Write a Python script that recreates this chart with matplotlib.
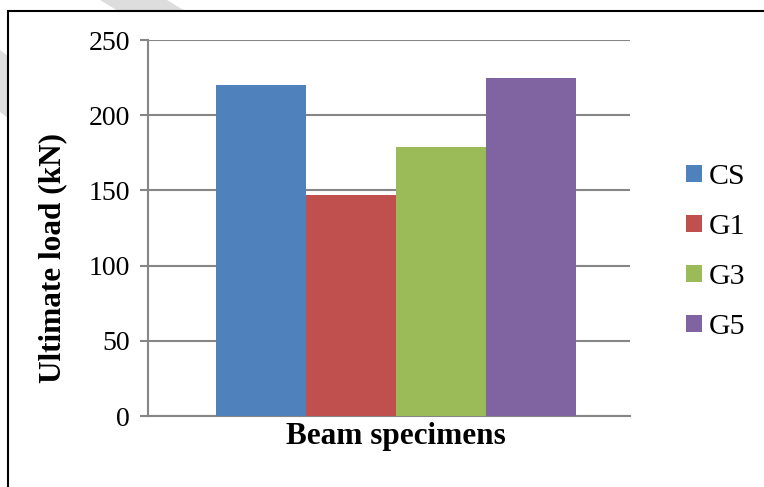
import numpy as np
import matplotlib
matplotlib.use("Agg")
import matplotlib.pyplot as plt
from matplotlib.patches import Polygon, Rectangle

# data
categories = ['Beam specimens']
series = ['CS', 'G1', 'G3', 'G5']
values = [220, 147, 179, 225]
colors = ['#4F81BD', '#C0504D', '#9BBB59', '#8064A2']

plt.rcParams['font.family'] = ['Liberation Serif', 'DejaVu Serif']

fig = plt.figure(figsize=(7.64, 4.87), dpi=100)
W, H = 764, 487

# faint watermark stripes
for pts in ([(100, 0), (167, 0), (185, 11), (118, 11)],
            [(0, 50), (0, 112), (8, 118), (8, 56)]):
    fig.patches.append(Polygon([(x / W, 1 - y / H) for x, y in pts], closed=True,
                               transform=fig.transFigure, facecolor='#dddddd',
                               edgecolor='none', zorder=0))

# outer frame
fig.patches.append(Rectangle((8 / W, -0.1), 1.2, 1 - 11 / H + 0.1, transform=fig.transFigure,
                             fill=False, edgecolor='black', linewidth=1.5, zorder=1))

ax = fig.add_axes([148 / W, 1 - 416 / H, (630 - 148) / W, (416 - 40) / H])
ax.set_facecolor('none')

bw = 90 / 482 * 2.0  # bar width in axis units
x0 = 7 / 482 * 2.0
offsets = (np.arange(len(series)) - 1.5) * bw
for s, v, c, o in zip(series, values, colors, offsets):
    ax.bar(x0 + o, v, width=bw, color=c, label=s, zorder=3)

ax.set_xlim(-1, 1)
ax.set_ylim(0, 250)
ax.set_yticks(np.arange(0, 251, 50))
ax.set_xticks([])
ax.grid(axis='y', color='#868686', linewidth=1.5, zorder=0)
for side in ['top', 'right']:
    ax.spines[side].set_visible(False)
ax.spines['left'].set_color('#868686')
ax.spines['left'].set_linewidth(1.5)
ax.spines['bottom'].set_color('#868686')
ax.spines['bottom'].set_linewidth(1.5)
ax.tick_params(axis='y', length=6, width=1.5, color='#868686', labelsize=20, pad=7)

ax.set_xlabel(categories[0], fontsize=22.5, fontweight='bold')
ax.xaxis.set_label_coords(0.515, -0.016)
ax.set_ylabel('Ultimate load (kN)', fontsize=22.5, fontweight='bold')
ax.yaxis.set_label_coords(-0.168, 0.42)

ax.legend(loc='center left', bbox_to_anchor=(1.095, 0.436), frameon=False,
          fontsize=21.5, handlelength=0.52, handleheight=0.52, handletextpad=0.25,
          labelspacing=0.8, borderaxespad=0, borderpad=0.35)

fig.savefig('out.png', dpi=100)
